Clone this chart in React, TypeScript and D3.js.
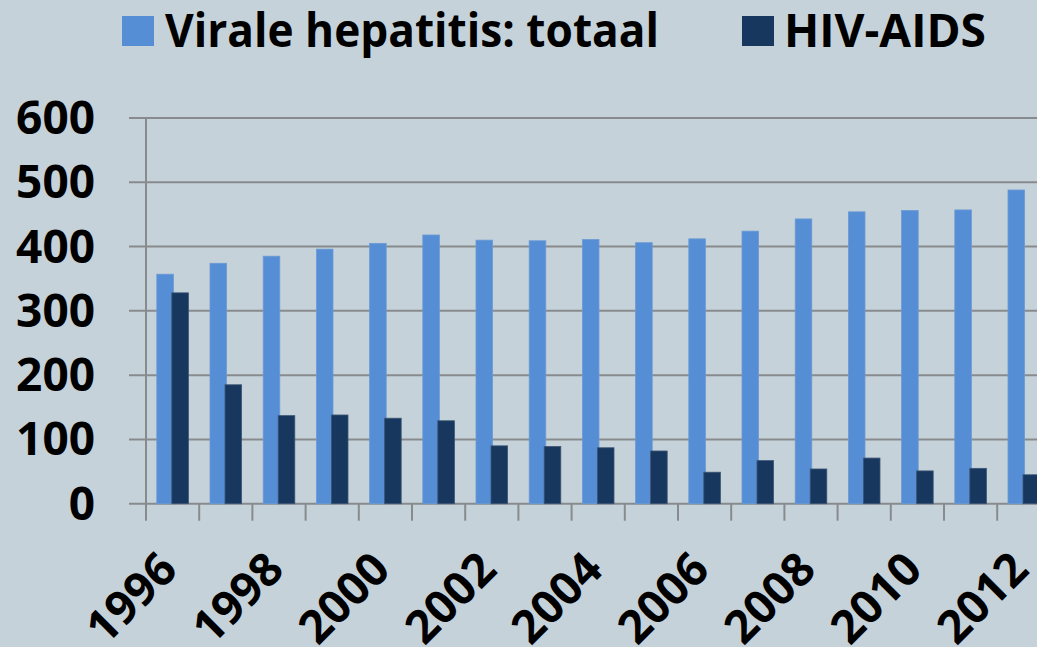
import { useEffect, useRef } from "react";
import * as d3 from "d3";

// yearly counts
const YEARS = [
  "1996", "1997", "1998", "1999", "2000", "2001", "2002", "2003", "2004",
  "2005", "2006", "2007", "2008", "2009", "2010", "2011", "2012",
];
const HEPATITIS = [357, 374, 385, 396, 405, 418, 410, 409, 411, 406, 412, 424, 443, 454, 456, 457, 488];
const HIV_AIDS = [328, 185, 137, 138, 133, 129, 90, 89, 87, 82, 49, 67, 54, 71, 51, 55, 45];
const SERIES = ["Virale hepatitis: totaal", "HIV-AIDS"];
const Y_TICKS = [0, 100, 200, 300, 400, 500, 600];

const W = 1037;
const H = 647;
const PLOT = { left: 146, right: 1050.4, top: 118, bottom: 503.7 };
const COLORS = ["#558ed5", "#17375e"];
const BG = "#c6d2d9";
const GRID = "#878b8e";
const FONT = "'Open Sans', 'DejaVu Sans', sans-serif";

export default function App() {
  const svgRef = useRef<SVGSVGElement>(null);

  useEffect(() => {
    document.body.style.margin = "0";
    const svg = d3.select(svgRef.current);
    svg.selectAll("*").remove();

    svg.append("rect").attr("width", W).attr("height", H).attr("fill", BG);

    const x0 = d3
      .scaleBand<string>()
      .domain(YEARS)
      .range([PLOT.left, PLOT.right])
      .paddingInner(0.406)
      .paddingOuter(0.203);
    const x1 = d3.scaleBand<string>().domain(SERIES).range([0, x0.bandwidth()]);
    const y = d3.scaleLinear().domain([0, 600]).range([PLOT.bottom, PLOT.top]);

    // gridlines + left tick marks
    svg
      .append("g")
      .selectAll("line")
      .data(Y_TICKS)
      .join("line")
      .attr("x1", PLOT.left - 17)
      .attr("x2", W)
      .attr("y1", (d) => y(d))
      .attr("y2", (d) => y(d))
      .attr("stroke", GRID)
      .attr("stroke-width", 2);

    // y labels
    svg
      .append("g")
      .selectAll("text")
      .data(Y_TICKS)
      .join("text")
      .attr("x", 95)
      .attr("y", (d) => y(d) + 16)
      .attr("text-anchor", "end")
      .attr("font-family", FONT)
      .attr("font-weight", 700)
      .attr("font-size", 46)
      .attr("fill", "#000")
      .text((d) => d);

    // bars
    const rows = YEARS.map((yr, i) => ({ yr, vals: [HEPATITIS[i], HIV_AIDS[i]] }));
    const groups = svg
      .append("g")
      .selectAll("g")
      .data(rows)
      .join("g")
      .attr("transform", (d) => `translate(${x0(d.yr)},0)`);
    groups
      .selectAll("rect")
      .data((d) => d.vals.map((v, i) => ({ v, s: SERIES[i], i })))
      .join("rect")
      .attr("x", (d) => (x1(d.s) ?? 0) - (d.i === 1 ? 0.8 : 0))
      .attr("y", (d) => y(d.v))
      .attr("width", x1.bandwidth() + 0.8)
      .attr("height", (d) => y(0) - y(d.v))
      .attr("fill", (d) => COLORS[d.i])
      .attr("stroke", (d) => (d.i === 1 ? "#3d5676" : "#6b9ad6"))
      .attr("stroke-width", 0.8);

    // x axis line + ticks
    svg
      .append("line")
      .attr("x1", PLOT.left)
      .attr("x2", PLOT.left)
      .attr("y1", PLOT.top)
      .attr("y2", PLOT.bottom + 17)
      .attr("stroke", GRID)
      .attr("stroke-width", 2);
    const step = x0.step();
    svg
      .append("g")
      .selectAll("line")
      .data(YEARS.slice(1))
      .join("line")
      .attr("x1", (_, i) => PLOT.left + (i + 1) * step)
      .attr("x2", (_, i) => PLOT.left + (i + 1) * step)
      .attr("y1", PLOT.bottom)
      .attr("y2", PLOT.bottom + 17)
      .attr("stroke", GRID)
      .attr("stroke-width", 2);

    // x labels every other year, rotated
    svg
      .append("g")
      .selectAll("text")
      .data(YEARS.filter((_, i) => i % 2 === 0))
      .join("text")
      .attr("transform", (d) => {
        const cx = (x0(d) ?? 0) + x0.bandwidth() / 2 + 7;
        return `translate(${cx},572) rotate(-45)`;
      })
      .attr("text-anchor", "end")
      .attr("font-family", FONT)
      .attr("font-weight", 700)
      .attr("font-size", 46)
      .attr("fill", "#000")
      .text((d) => d);

    // legend
    const legend = [
      { sx: 122, tx: 165, len: 494 },
      { sx: 742, tx: 784, len: 202 },
    ];
    SERIES.forEach((s, i) => {
      svg
        .append("rect")
        .attr("x", legend[i].sx)
        .attr("y", 16)
        .attr("width", 32)
        .attr("height", 30)
        .attr("fill", COLORS[i]);
      svg
        .append("text")
        .attr("x", legend[i].tx)
        .attr("y", 46.5)
        .attr("font-family", FONT)
        .attr("font-weight", 700)
        .attr("font-size", 46)
        .attr("textLength", legend[i].len)
        .attr("lengthAdjust", "spacingAndGlyphs")
        .attr("fill", "#000")
        .text(s);
    });
  }, []);

  return <svg ref={svgRef} width={W} height={H} style={{ display: "block" }} />;
}
